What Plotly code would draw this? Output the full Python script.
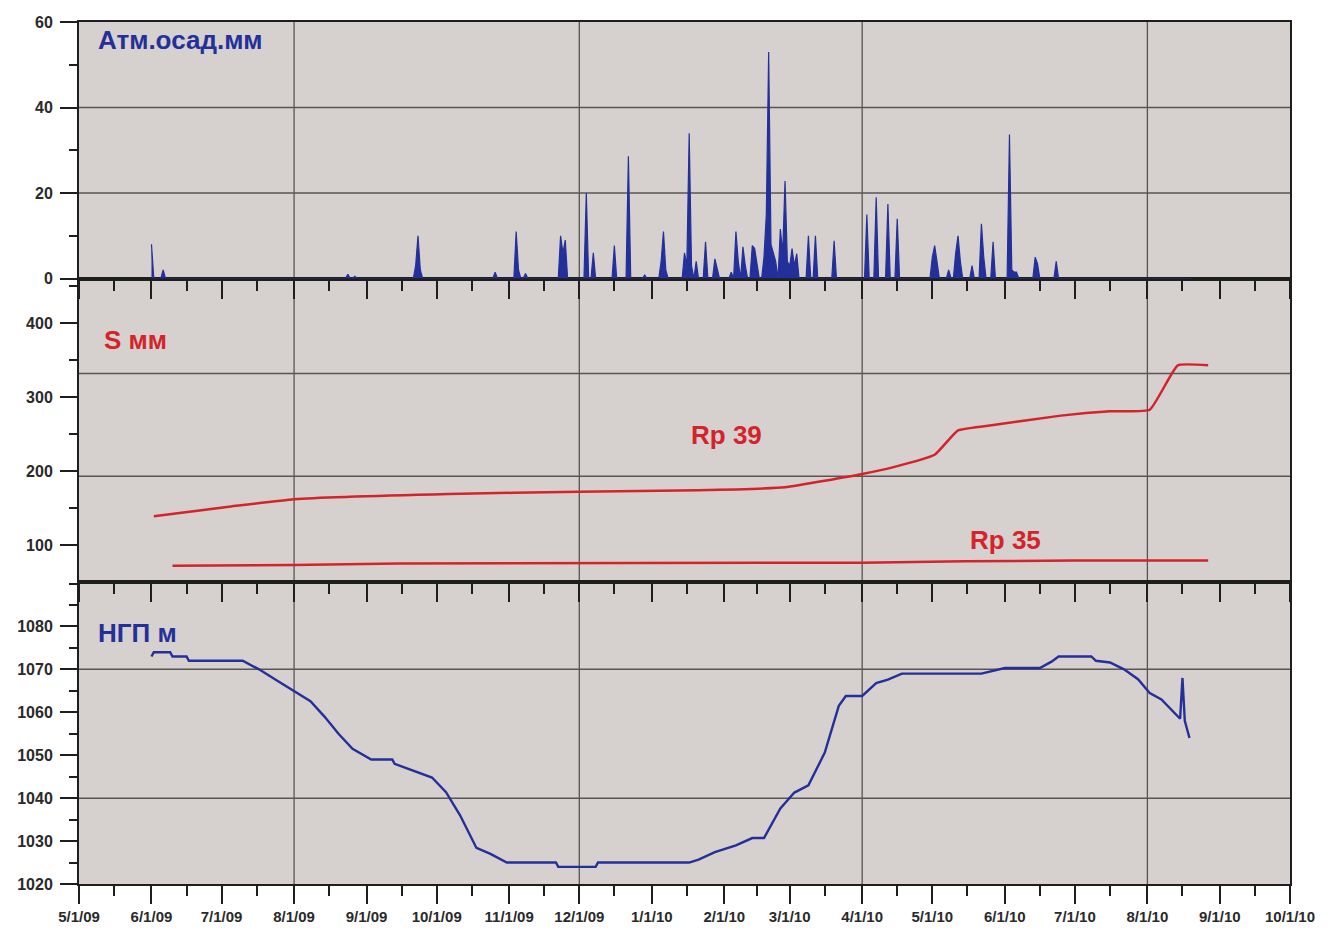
import pandas as pd
import plotly.graph_objects as go

# ---------------- data ----------------
month_ticks = ["2009-05-01", "2009-06-01", "2009-07-01", "2009-08-01", "2009-09-01",
               "2009-10-01", "2009-11-01", "2009-12-01", "2010-01-01", "2010-02-01",
               "2010-03-01", "2010-04-01", "2010-05-01", "2010-06-01", "2010-07-01",
               "2010-08-01", "2010-09-01", "2010-10-01"]
month_labels = ["5/1/09", "6/1/09", "7/1/09", "8/1/09", "9/1/09", "10/1/09", "11/1/09",
                "12/1/09", "1/1/10", "2/1/10", "3/1/10", "4/1/10", "5/1/10", "6/1/10",
                "7/1/10", "8/1/10", "9/1/10", "10/1/10"]
mid_month_ticks = ["2009-05-16", "2009-06-16", "2009-07-16", "2009-08-16", "2009-09-16",
                   "2009-10-16", "2009-11-16", "2009-12-16", "2010-01-16", "2010-02-15",
                   "2010-03-16", "2010-04-16", "2010-05-16", "2010-06-16", "2010-07-16",
                   "2010-08-16", "2010-09-16"]

# precipitation (days with rain), mm
rain_dates = ["2009-06-01", "2009-06-06", "2009-08-24", "2009-08-27", "2009-09-22",
              "2009-09-23", "2009-09-24", "2009-10-26", "2009-11-04", "2009-11-05",
              "2009-11-08", "2009-11-23", "2009-11-24", "2009-11-25", "2009-12-04",
              "2009-12-07", "2009-12-16", "2009-12-22", "2009-12-29", "2010-01-05",
              "2010-01-06", "2010-01-07", "2010-01-15", "2010-01-16", "2010-01-17",
              "2010-01-18", "2010-01-20", "2010-01-24", "2010-01-28", "2010-01-29",
              "2010-02-04", "2010-02-06", "2010-02-07", "2010-02-09", "2010-02-10",
              "2010-02-13", "2010-02-14", "2010-02-15", "2010-02-18", "2010-02-19",
              "2010-02-20", "2010-02-21", "2010-02-22", "2010-02-23", "2010-02-25",
              "2010-02-26", "2010-02-27", "2010-02-28", "2010-03-01", "2010-03-02",
              "2010-03-03", "2010-03-04", "2010-03-09", "2010-03-12", "2010-03-20",
              "2010-04-03", "2010-04-07", "2010-04-12", "2010-04-16", "2010-05-01",
              "2010-05-02", "2010-05-03", "2010-05-08", "2010-05-11", "2010-05-12",
              "2010-05-13", "2010-05-18", "2010-05-22", "2010-05-23", "2010-05-27",
              "2010-06-03", "2010-06-04", "2010-06-05", "2010-06-06", "2010-06-14",
              "2010-06-15", "2010-06-23"]
rain_mm = [8, 2, 1, 0.5, 3,
           10, 2, 1.5, 11, 2,
           1.2, 10, 6, 9, 20,
           6, 7.7, 28.6, 0.8, 4,
           11, 2, 6, 3, 34,
           3, 4, 8.6, 4.6, 2,
           1.5, 11, 4, 7.4, 3,
           7.7, 7, 3, 5, 15,
           53, 8, 6, 4, 11.6,
           6, 22.8, 4, 3, 7,
           3, 5.8, 10, 10, 8.8,
           15, 19, 17.4, 14, 5,
           7.7, 4, 2, 6, 10,
           4, 3, 12.8, 5, 8.6,
           33.7, 2, 1.5, 1.5, 5,
           3.5, 4]
rain_period = ("2009-06-01", "2010-08-20")

# S, mm  (Rp 39)
rp39_dates = ["2009-06-02", "2009-07-05", "2009-08-01", "2009-10-06", "2009-12-01",
              "2010-01-21", "2010-02-27", "2010-04-01", "2010-04-14", "2010-05-02",
              "2010-05-12", "2010-05-24", "2010-06-25", "2010-07-16", "2010-08-02",
              "2010-08-14", "2010-08-27"]
rp39_mm = [139, 152, 162, 169, 172, 174, 178, 196, 205, 222, 255, 261, 275, 281, 283, 343, 343]

# S, mm  (Rp 35)
rp35_dates = ["2009-06-10", "2009-08-01", "2009-09-15", "2010-01-01", "2010-03-15",
              "2010-04-01", "2010-05-15", "2010-07-01", "2010-08-27"]
rp35_mm = [72, 73, 75, 75, 75, 76, 78, 79, 79]

# groundwater level, m
ngp_dates = ["2009-06-01", "2009-06-02", "2009-06-09", "2009-06-10", "2009-06-16",
             "2009-06-17", "2009-07-10", "2009-07-17", "2009-07-25", "2009-08-02",
             "2009-08-08", "2009-08-14", "2009-08-20", "2009-08-26", "2009-09-01",
             "2009-09-03", "2009-09-12", "2009-09-13", "2009-09-18", "2009-09-23",
             "2009-09-29", "2009-10-05", "2009-10-11", "2009-10-18", "2009-10-24",
             "2009-10-31", "2009-11-21", "2009-11-22", "2009-12-08", "2009-12-09",
             "2010-01-17", "2010-01-21", "2010-01-28", "2010-02-06", "2010-02-13",
             "2010-02-18", "2010-02-25", "2010-03-03", "2010-03-09", "2010-03-16",
             "2010-03-22", "2010-03-25", "2010-04-01", "2010-04-07", "2010-04-12",
             "2010-04-18", "2010-05-22", "2010-06-01", "2010-06-16", "2010-06-21",
             "2010-06-24", "2010-07-08", "2010-07-10", "2010-07-16", "2010-07-22",
             "2010-07-28", "2010-08-02", "2010-08-07", "2010-08-15", "2010-08-16",
             "2010-08-17", "2010-08-19"]
ngp_m = [1073, 1074, 1074, 1073, 1073,
         1072, 1072, 1070, 1067.3, 1064.5,
         1062.6, 1059, 1055, 1051.5, 1049.5,
         1049, 1049, 1048, 1047, 1046,
         1044.8, 1041.4, 1036, 1028.4, 1027,
         1025, 1025, 1024, 1024, 1025,
         1025, 1025.7, 1027.4, 1029, 1030.7,
         1030.7, 1037.6, 1041.3, 1043, 1050.6,
         1061.5, 1063.8, 1063.8, 1066.8, 1067.6,
         1069, 1069, 1070.3, 1070.3, 1071.8,
         1073, 1073, 1072, 1071.6, 1070,
         1067.7, 1064.5, 1063, 1058.5, 1068,
         1058, 1054]

# ---------------- styling ----------------
BLUE = "#24309a"
RED = "#d3232b"
BG = "#d6d0cf"
AX = "#1e1e1e"
GRID = "#5a5555"
FONT = "Liberation Sans"

days = pd.date_range(rain_period[0], rain_period[1], freq="D")
rain = pd.Series(rain_mm, index=pd.to_datetime(rain_dates)).reindex(days, fill_value=0)

fig = go.Figure()
fig.add_trace(go.Scatter(x=rain.index, y=rain.values, mode="lines", fill="tozeroy",
                         line=dict(color=BLUE, width=1.2), fillcolor=BLUE,
                         xaxis="x3", yaxis="y3", showlegend=False))
fig.add_trace(go.Scatter(x=pd.to_datetime(rp39_dates), y=rp39_mm, mode="lines",
                         line=dict(color=RED, width=2.5, shape="spline", smoothing=0.4),
                         xaxis="x2", yaxis="y2", showlegend=False))
fig.add_trace(go.Scatter(x=pd.to_datetime(rp35_dates), y=rp35_mm, mode="lines",
                         line=dict(color=RED, width=2.5),
                         xaxis="x2", yaxis="y2", showlegend=False))
fig.add_trace(go.Scatter(x=pd.to_datetime(ngp_dates), y=ngp_m, mode="lines",
                         line=dict(color=BLUE, width=2.4),
                         xaxis="x", yaxis="y", showlegend=False))

tickfont = dict(family=FONT, size=16, color="#2a2a2a", weight="bold")
xtickfont = dict(family=FONT, size=15, color="#2a2a2a", weight="bold")

def xaxis_cfg(anchor, labels):
    return dict(
        type="date", range=[month_ticks[0], month_ticks[-1]], anchor=anchor,
        tickmode="array", tickvals=month_ticks, ticktext=month_labels,
        showticklabels=labels, ticks="outside", ticklen=18, tickwidth=2, tickcolor=AX,
        minor=dict(tickmode="array", tickvals=mid_month_ticks, ticks="outside",
                   ticklen=10, tickwidth=2, tickcolor=AX, showgrid=False),
        showline=True, linewidth=2, linecolor=AX, mirror=True, showgrid=False,
        zeroline=False, tickfont=xtickfont, matches=None if anchor == "y" else "x",
    )

def yaxis_cfg(dom, rng, tv, minor_dtick):
    return dict(
        domain=dom, range=rng, tickmode="array", tickvals=tv,
        ticks="outside", ticklen=17, tickwidth=2, tickcolor=AX,
        minor=dict(dtick=minor_dtick, tick0=0, ticks="outside", ticklen=8,
                   tickwidth=2, tickcolor=AX, showgrid=False),
        showline=True, linewidth=2, linecolor=AX, mirror=True, showgrid=False,
        zeroline=False, tickfont=tickfont, ticklabelstandoff=4,
    )

d3 = [0.0, 0.3506]
d2 = [0.3506, 0.7024]
d1 = [0.7024, 1.0]

fig.update_layout(
    width=1337, height=937,
    margin=dict(l=79, r=47, t=22, b=48),
    paper_bgcolor="white", plot_bgcolor=BG,
    font=dict(family=FONT),
    xaxis=xaxis_cfg("y", True),
    xaxis2=xaxis_cfg("y2", False),
    xaxis3=xaxis_cfg("y3", False),
    yaxis=yaxis_cfg(d3, [1020, 1090.4], [1020, 1030, 1040, 1050, 1060, 1070, 1080], 5),
    yaxis2=yaxis_cfg(d2, [50.2, 460.5], [100, 200, 300, 400], 50),
    yaxis3=yaxis_cfg(d1, [0, 60], [0, 20, 40, 60], 10),
)

# grid lines
shapes = []
grid_dates = ["2009-08-01", "2009-12-01", "2010-04-01", "2010-08-01"]
for xa, ya in (("x", "y"), ("x2", "y2"), ("x3", "y3")):
    for d in grid_dates:
        shapes.append(dict(type="line", xref=xa, yref=ya + " domain", x0=d, x1=d, y0=0, y1=1,
                           line=dict(color=GRID, width=1.3), layer="below"))
for ya, vals in (("y3", [20, 40]), ("y2", [193, 332]), ("y", [1040, 1070])):
    for v in vals:
        shapes.append(dict(type="line", xref="x domain", yref=ya, x0=0, x1=1, y0=v, y1=v,
                           line=dict(color=GRID, width=1.5), layer="below"))
fig.update_layout(shapes=shapes)

labfont = dict(family=FONT, size=26, weight="bold")
ann = [
    dict(text="Атм.осад.мм", xref="x3 domain", yref="y3 domain", x=0.014, y=0.93,
         color=BLUE),
    dict(text="S мм", xref="x2 domain", yref="y2 domain", x=0.019, y=0.797, color=RED),
    dict(text="Rp 39", xref="x2 domain", yref="y2 domain", x=0.504, y=0.485, color=RED),
    dict(text="Rp 35", xref="x2 domain", yref="y2 domain", x=0.734, y=0.138, color=RED),
    dict(text="НГП м", xref="x domain", yref="y domain", x=0.014, y=0.829, color=BLUE),
]
for a in ann:
    fig.add_annotation(text=a["text"], xref=a["xref"], yref=a["yref"], x=a["x"], y=a["y"],
                       xanchor="left", yanchor="middle", showarrow=False,
                       font=dict(labfont, color=a["color"]))

fig.write_html("out.html")
